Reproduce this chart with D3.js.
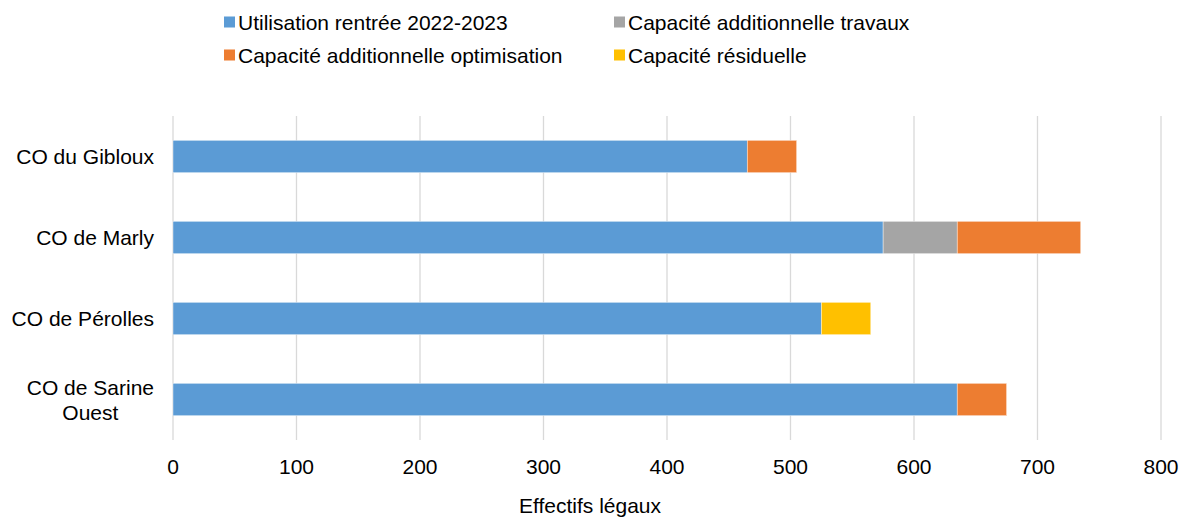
<!DOCTYPE html>
<html><head><meta charset="utf-8">
<script src="https://cdn.jsdelivr.net/npm/d3@7"></script>
<style>body{margin:0;background:#fff;} text{font-family:"Liberation Sans",Arial,sans-serif;fill:#000;}</style>
</head><body>
<svg id="c" width="1181" height="517"></svg>
<script>
const categories = ["CO du Gibloux", "CO de Marly", "CO de Pérolles", "CO de Sarine Ouest"];
const seriesNames = ["Utilisation rentrée 2022-2023", "Capacité additionnelle travaux", "Capacité additionnelle optimisation", "Capacité résiduelle"];
const utilisation = [465, 575, 525, 635];
const travaux = [0, 60, 0, 0];
const optimisation = [40, 100, 0, 40];
const residuelle = [0, 0, 40, 0];
const xTicks = [0, 100, 200, 300, 400, 500, 600, 700, 800];
const xTitle = "Effectifs légaux";
const colors = ["#5B9BD5", "#A5A5A5", "#ED7D31", "#FFC000"];

const svg = d3.select("#c");
const L = 173, R = 1161, T = 116, B = 440;
const x = d3.scaleLinear().domain([0, 800]).range([L, R]);
const y = d3.scaleBand().domain(categories).range([T, B]).paddingInner(0.6).paddingOuter(0.3);

// gridlines
svg.append("g").selectAll("line").data(xTicks).join("line")
  .attr("x1", d => x(d)).attr("x2", d => x(d)).attr("y1", T).attr("y2", B)
  .attr("stroke", "#D9D9D9").attr("stroke-width", 1.3);

// stacked bars; stack order: utilisation, travaux, optimisation, residuelle
const rows = categories.map((c, i) => ({cat: c, u: utilisation[i], t: travaux[i], o: optimisation[i], r: residuelle[i]}));
const stack = d3.stack().keys(["u", "t", "o", "r"])(rows);
svg.append("g").selectAll("g").data(stack).join("g")
  .attr("fill", (d, i) => colors[i])
  .selectAll("rect").data(d => d.filter(s => s[1] > s[0])).join("rect")
  .attr("x", d => x(d[0])).attr("width", d => x(d[1]) - x(d[0]))
  .attr("y", d => y(d.data.cat)).attr("height", y.bandwidth())
  .attr("stroke", "#fff").attr("stroke-width", 0.6).attr("stroke-opacity", 0.7);

// x axis labels
svg.append("g").selectAll("text").data(xTicks).join("text")
  .attr("x", d => x(d)).attr("y", 474).attr("text-anchor", "middle")
  .attr("font-size", 21).text(d => d);

// category labels (wrap long ones)
const lab = svg.append("g");
categories.forEach(c => {
  const cy = y(c) + y.bandwidth() / 2;
  const lines = c.length > 15 ? [c.slice(0, c.lastIndexOf(" ")), c.slice(c.lastIndexOf(" ") + 1)] : [c];
  if (lines.length === 1) {
    lab.append("text").attr("x", 154).attr("y", cy + 7.5).attr("text-anchor", "end").attr("font-size", 21).text(c);
  } else {
    const t = lab.append("text").attr("font-size", 21).attr("text-anchor", "middle");
    const tmp = lab.append("text").attr("font-size", 21).text(lines[0]);
    const w = tmp.node().getComputedTextLength(); tmp.remove();
    const cx = 154 - w / 2;
    lines.forEach((ln, k) => {
      t.append("tspan").attr("x", cx).attr("y", cy + 7.5 + (k - (lines.length - 1) / 2) * 25).text(ln);
    });
  }
});

// axis title
svg.append("text").attr("x", 590).attr("y", 513).attr("text-anchor", "middle").attr("font-size", 21).text(xTitle);

// legend (row-major, two columns)
const legendPos = [[224, 22], [614, 22], [224, 55], [614, 55]];
const legendOrder = [0, 1, 2, 3];
const lg = svg.append("g");
legendOrder.forEach((si, k) => {
  const [lx, ly] = legendPos[k];
  lg.append("rect").attr("x", lx).attr("y", ly - 5.5).attr("width", 11).attr("height", 11).attr("fill", colors[si === 1 ? 1 : si === 2 ? 2 : si]);
  lg.append("text").attr("x", lx + 14).attr("y", ly + 7.5).attr("font-size", 21).text(seriesNames[si]);
});
</script>
</body></html>
